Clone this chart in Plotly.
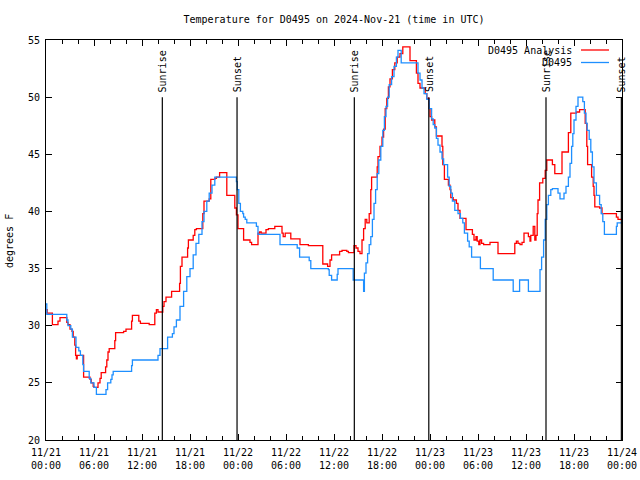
import pandas as pd
import plotly.graph_objects as go

base = pd.Timestamp("2024-11-21 00:00")

# Observed D0495 (hours since 2024-11-21 00:00 UTC, degrees F)
obs_hours = [0, 0.1, 2.6, 2.75, 3.1, 3.3, 3.75, 4.1, 4.3, 4.6, 4.7, 5.4, 5.6, 6.0, 6.3, 7.5, 7.7, 8.1, 8.25, 8.4,
             10.7, 10.8, 14.0, 14.25, 15.2, 15.8, 16.0, 16.3, 16.75, 17.2, 17.6, 18.0, 18.4, 18.75, 19.1, 19.5,
             19.75, 20.1, 20.4, 20.75, 21.1, 23.8, 23.9, 24.1, 24.3, 24.6, 24.7, 24.9, 25.1, 26.3, 26.5, 29.25,
             31.4, 31.7, 32.9, 33.1, 35.3, 35.4, 35.7, 36.4, 36.5, 38.4, 39.7, 39.8, 40.0, 40.2, 40.4, 40.6,
             40.8, 41.0, 41.2, 41.4, 41.6, 41.85, 42.1, 42.3, 42.5, 42.7, 42.9, 43.2, 43.5, 43.8, 44.0, 44.4,
             46.5, 46.75, 47.0, 47.25, 47.6, 47.9, 48.2, 48.4, 48.6, 48.8, 49.0, 49.25, 49.5, 49.7, 50.2, 50.4,
             50.6, 50.8, 51.1, 51.5, 51.8, 52.1, 52.3, 52.7, 52.9, 53.2, 54.3, 55.9, 58.4, 59.2, 60.3, 61.75,
             61.95, 62.2, 62.4, 62.6, 62.8, 63.1, 63.3, 64.0, 64.25, 64.75, 65.0, 65.3, 65.5, 65.7, 65.85, 66.0,
             66.25, 66.5, 67.1, 67.3, 67.5, 67.65, 67.9, 68.1, 68.3, 68.5, 68.8, 69.2, 69.4, 69.6, 69.8, 71.3,
             71.4, 72.0]
obs_temps = [31.9, 31.0, 30.5, 30.0, 29.7, 29.0, 28.1, 27.8, 27.4, 26.6, 26.0, 25.4, 25.0, 24.6, 24.0, 24.4, 25.0,
             25.3, 25.7, 26.0, 26.5, 27.0, 27.4, 28.0, 29.0, 29.3, 29.9, 30.5, 31.7, 33.0, 34.3, 35.0, 36.2, 37.2,
             38.0, 39.1, 40.0, 40.9, 41.6, 42.3, 43.0, 42.6, 41.9, 40.7, 40.0, 39.8, 39.5, 39.3, 39.0, 38.7, 38.0,
             37.1, 36.8, 36.0, 35.7, 35.0, 34.9, 34.4, 34.0, 34.5, 35.0, 34.0, 33.0, 34.6, 35.5, 36.3, 37.1, 37.8,
             39.3, 40.7, 41.9, 43.3, 44.5, 45.7, 47.1, 48.3, 49.2, 50.0, 51.1, 51.8, 52.7, 53.5, 54.1, 53.0, 52.1,
             51.5, 50.8, 50.3, 49.8, 49.0, 48.1, 47.6, 47.3, 46.4, 45.8, 45.2, 44.6, 44.1, 43.0, 42.2, 41.6, 40.9,
             40.1, 39.8, 39.4, 39.0, 38.1, 37.4, 36.9, 36.0, 35.0, 34.0, 33.0, 34.0, 33.0, 34.9, 36.0, 37.5, 39.3,
             40.6, 41.4, 41.9, 42.0, 41.6, 41.1, 41.6, 42.2, 43.0, 44.2, 45.7, 46.8, 48.0, 49.2, 50.0, 49.6, 48.6,
             47.7, 47.1, 46.3, 45.2, 43.9, 42.5, 41.4, 40.6, 39.8, 39.1, 38.0, 38.7, 39.0, 39.0]

# D0495 Analysis
ana_hours = [0, 0.15, 0.8, 1.5, 1.75, 2.6, 2.75, 3.0, 3.25, 3.4, 3.6, 3.7, 3.8, 3.9, 4.7, 5.5, 5.65, 5.9, 6.0, 6.5,
             6.75, 6.9, 7.45, 7.6, 7.75, 7.9, 8.6, 8.7, 9.7, 10.0, 10.7, 10.8, 11.6, 11.8, 12.9, 13.6, 13.8, 14.0,
             14.6, 14.75, 15.0, 15.7, 16.7, 16.8, 17.0, 17.7, 17.8, 18.4, 18.6, 18.8, 19.6, 19.75, 20.4, 20.6,
             21.1, 21.3, 21.7, 22.6, 23.6, 23.8, 24.0, 24.7, 25.5, 25.7, 26.5, 26.7, 26.9, 27.5, 27.8, 28.6, 29.5,
             29.65, 29.9, 30.6, 31.75, 32.8, 34.6, 35.2, 35.5, 35.7, 36.7, 37.0, 37.6, 37.8, 38.5, 38.75, 39.0,
             39.25, 39.5, 39.7, 39.9, 40.1, 40.4, 40.6, 40.7, 41.4, 41.5, 41.75, 42.0, 42.2, 42.4, 42.6, 42.8,
             43.0, 43.3, 43.6, 43.9, 44.25, 44.6, 45.5, 46.3, 46.5, 46.75, 47.4, 47.6, 47.9, 48.0, 48.2, 48.4,
             48.6, 48.8, 49.5, 49.6, 49.8, 50.3, 50.5, 50.6, 50.9, 51.3, 51.5, 51.75, 52.5, 53.3, 53.5, 53.75,
             53.9, 54.1, 54.25, 54.45, 54.7, 55.5, 56.5, 58.6, 58.8, 59.0, 59.25, 59.5, 59.75, 60.3, 60.5, 60.6,
             60.9, 61.1, 61.25, 61.4, 61.5, 61.7, 62.1, 62.4, 62.6, 63.3, 63.6, 64.5, 65.3, 65.6, 66.3, 66.7,
             67.4, 67.6, 67.7, 68.2, 68.4, 68.5, 68.6, 69.2, 69.5, 71.3, 71.5, 72.0]
ana_temps = [31.4, 31.1, 30.1, 30.4, 30.7, 30.3, 30.1, 29.7, 29.5, 29.0, 28.3, 27.4, 27.1, 27.4, 25.5, 25.3, 25.0,
             24.7, 24.6, 25.0, 25.4, 25.9, 26.4, 27.0, 27.7, 28.0, 28.7, 29.4, 29.5, 29.7, 30.4, 30.9, 30.4, 30.2,
             30.1, 31.1, 31.4, 31.2, 31.7, 32.1, 32.5, 33.0, 33.7, 35.2, 36.0, 36.8, 37.5, 37.9, 38.4, 38.5, 39.8,
             40.9, 41.1, 42.8, 42.9, 43.0, 43.4, 41.4, 40.3, 39.7, 38.5, 37.5, 37.3, 37.1, 38.1, 38.2, 38.1, 38.4,
             38.5, 38.7, 38.1, 37.8, 38.1, 37.6, 37.1, 37.0, 35.4, 35.2, 35.75, 36.2, 36.5, 36.6, 36.5, 36.4, 37.0,
             36.8, 36.5, 36.3, 37.5, 38.5, 39.3, 39.0, 39.8, 41.9, 43.0, 43.9, 44.8, 45.7, 46.5, 47.2, 49.0, 49.9,
             50.9, 51.6, 52.4, 53.0, 53.5, 53.8, 54.4, 53.2, 52.1, 51.2, 50.8, 50.3, 49.9, 49.0, 48.3, 48.0, 48.0,
             47.4, 46.6, 45.7, 44.1, 42.8, 42.3, 41.9, 41.2, 41.0, 40.7, 40.1, 39.4, 38.4, 38.0, 37.5, 37.8, 37.4,
             37.1, 37.5, 37.2, 37.1, 37.3, 36.3, 37.2, 37.4, 37.2, 37.1, 37.3, 38.1, 37.8, 37.4, 37.9, 38.7, 37.5,
             37.9, 39.8, 41.0, 42.5, 42.9, 43.6, 44.5, 44.1, 43.3, 45.2, 46.9, 48.6, 48.7, 48.9, 47.7, 45.7, 44.1,
             43.0, 42.2, 41.4, 40.4, 40.3, 39.8, 39.5, 39.3, 39.3]

sun_hours = [14.54, 23.88, 38.54, 47.85, 62.5, 71.92]
sun_labels = ["Sunrise", "Sunset", "Sunrise", "Sunset", "Sunrise", "Sunset"]

tick_hours = list(range(0, 73, 6))
tick_labels = ["11/21<br>00:00", "11/21<br>06:00", "11/21<br>12:00", "11/21<br>18:00",
               "11/22<br>00:00", "11/22<br>06:00", "11/22<br>12:00", "11/22<br>18:00",
               "11/23<br>00:00", "11/23<br>06:00", "11/23<br>12:00", "11/23<br>18:00",
               "11/24<br>00:00"]
y_ticks = [20, 25, 30, 35, 40, 45, 50, 55]


def to_time(hours):
    return [base + pd.Timedelta(hours=h) for h in hours]


FONT = "DejaVu Sans Mono"
RED = "#ff0000"
BLUE = "#1e8fff"

L, R, T, B = 46, 18, 40, 40
PW, PH = 640 - L - R, 480 - T - B

fig = go.Figure()
fig.add_trace(go.Scatter(x=to_time(ana_hours), y=ana_temps, mode="lines", line_shape="hv",
                         line=dict(color=RED, width=1.3), name="D0495 Analysis", showlegend=False))
fig.add_trace(go.Scatter(x=to_time(obs_hours), y=obs_temps, mode="lines", line_shape="hv",
                         line=dict(color=BLUE, width=1.3), name="D0495", showlegend=False))

for h, lab in zip(sun_hours, sun_labels):
    t = base + pd.Timedelta(hours=h)
    fig.add_shape(type="line", xref="x", yref="y", x0=t, x1=t, y0=50, y1=20,
                  line=dict(color="black", width=1.2))
    fig.add_annotation(x=t, y=50, xref="x", yref="y", text=lab, showarrow=False,
                       textangle=-90, xanchor="center", yanchor="bottom", yshift=3,
                       font=dict(family=FONT, size=10, color="black"))

# gnuplot-style legend (text right-justified, sample to the right)
legend_items = [("D0495 Analysis", RED), ("D0495", BLUE)]
for i, (name, col) in enumerate(legend_items):
    ypix = 50 + 12.5 * i
    yp = 1 - (ypix - T) / PH
    fig.add_annotation(x=(574 - L) / PW, y=yp, xref="paper", yref="paper", text=name,
                       showarrow=False, xanchor="right", yanchor="middle",
                       font=dict(family=FONT, size=10, color="black"))
    fig.add_shape(type="line", xref="paper", yref="paper", x0=(581 - L) / PW, x1=(609 - L) / PW,
                  y0=yp, y1=yp, line=dict(color=col, width=1.3))

# y-axis title
fig.add_annotation(x=(10 - L) / PW, y=1 - (241 - T) / PH, xref="paper", yref="paper",
                   text="degrees F", showarrow=False, textangle=-90,
                   xanchor="center", yanchor="middle", font=dict(family=FONT, size=10, color="black"))

fig.update_layout(
    width=640, height=480,
    margin=dict(l=L, r=R, t=T, b=B, autoexpand=False),
    paper_bgcolor="white", plot_bgcolor="white",
    font=dict(family=FONT, size=10, color="black"),
    title=dict(text="Temperature for D0495 on 2024-Nov-21 (time in UTC)", x=0.5, xref="paper",
               y=1 - 19 / 480, yref="container", yanchor="middle",
               font=dict(family=FONT, size=10, color="black")),
    xaxis=dict(range=[base, base + pd.Timedelta(hours=72)], tickvals=to_time(tick_hours),
               ticktext=tick_labels, ticks="inside", ticklen=6, tickcolor="black",
               showline=True, linecolor="black", linewidth=1, mirror="allticks",
               showgrid=False, zeroline=False, automargin=False, ticklabelstandoff=3,
               minor=dict(dtick=2 * 3600 * 1000, tick0=base, ticks="inside", ticklen=4,
                          tickcolor="black", showgrid=False),
               tickfont=dict(family=FONT, size=10)),
    yaxis=dict(range=[20, 55], tickvals=y_ticks, ticks="inside", ticklen=6, tickcolor="black",
               showline=True, linecolor="black", linewidth=1, mirror="allticks",
               showgrid=False, zeroline=False, automargin=False, ticklabelstandoff=3,
               tickfont=dict(family=FONT, size=10)),
)

fig.write_html("out.html", config={"displayModeBar": False},
               post_script="document.body.style.margin='0';document.body.style.overflow='hidden';")
